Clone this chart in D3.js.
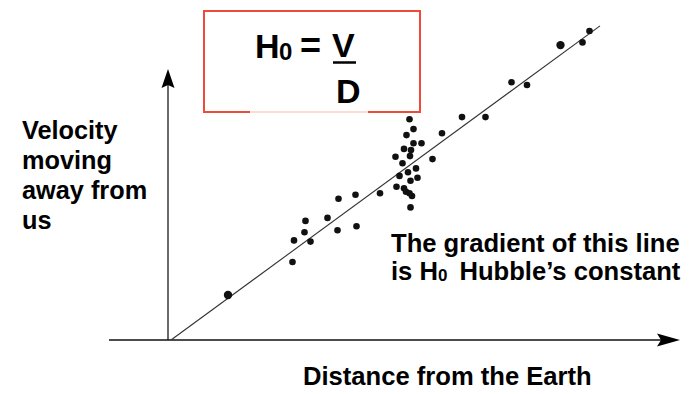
<!DOCTYPE html>
<html>
<head>
<meta charset="utf-8">
<script src="https://cdn.jsdelivr.net/npm/d3@7"></script>
<style>
  body { margin: 0; background: #fff; }
  text { font-family: "Liberation Sans", Arial, Helvetica, sans-serif; font-weight: bold; fill: #000; }
</style>
</head>
<body>
<svg width="698" height="394"></svg>
<script>
// distance (arbitrary units) and recession velocity (arbitrary units)
var distance = [11.4, 24.3, 24.6, 26.9, 26.7, 27.9, 31.3, 33.3, 33.5, 36.9, 37.1, 41.8, 45.1,
  47.7, 48.5, 47.1, 54.2, 48.5, 50.1, 46.6, 48.0, 47.8, 44.9, 52.3, 46.3, 49.0, 47.4, 45.7,
  49.3, 47.9, 46.6, 47.0, 47.7, 48.2, 47.9, 58.2, 62.9, 68.1, 71.2, 77.9, 82.3, 83.7];
var velocity = [15.0, 26.0, 33.2, 39.7, 35.9, 32.8, 40.7, 36.6, 47.1, 48.4, 37.9, 48.9, 51.1,
  73.6, 70.3, 68.3, 68.9, 65.6, 65.6, 63.7, 63.3, 61.3, 61.1, 60.3, 58.9, 57.2, 55.9, 54.7,
  54.1, 53.1, 50.6, 49.4, 48.9, 48.0, 44.2, 74.3, 74.3, 85.9, 85.0, 98.3, 99.2, 103.0];
var bigDots = [0, 39];

var fitX = [0, 85.8];
var fitY = [0, 104.7];

var yLabel = ["Velocity", "moving", "away from", "us"];
var xLabel = "Distance from the Earth";

var svg = d3.select("svg");

var x = d3.scaleLinear().domain([0, 100]).range([171, 671]);
var y = d3.scaleLinear().domain([0, 100]).range([340, 40]);

// axes with arrows
svg.append("line")
  .attr("x1", 168).attr("y1", 340).attr("x2", 168).attr("y2", 84)
  .attr("stroke", "#444").attr("stroke-width", 1.6);
svg.append("path")
  .attr("d", "M168,69 L174.5,88 L168,85 L161.5,88 Z")
  .attr("fill", "#000");

svg.append("line")
  .attr("x1", 109).attr("y1", 340).attr("x2", 664).attr("y2", 340)
  .attr("stroke", "#111").attr("stroke-width", 1.6);
svg.append("path")
  .attr("d", "M680,340 L657,333.5 L661,340 L657,346.5 Z")
  .attr("fill", "#000");

// fitted line
var line = d3.line()
  .x(function (d) { return x(d[0]); })
  .y(function (d) { return y(d[1]); });
svg.append("path")
  .datum(d3.zip(fitX, fitY))
  .attr("d", line)
  .attr("fill", "none")
  .attr("stroke", "#333")
  .attr("stroke-width", 1.1);

// points
svg.selectAll("circle")
  .data(d3.zip(distance, velocity))
  .enter()
  .append("circle")
  .attr("cx", function (d) { return x(d[0]); })
  .attr("cy", function (d) { return y(d[1]); })
  .attr("r", function (d, i) { return bigDots.indexOf(i) >= 0 ? 4.2 : 3.3; })
  .attr("fill", "#111");

// formula box
svg.append("rect")
  .attr("x", 204).attr("y", 11)
  .attr("width", 216).attr("height", 101)
  .attr("fill", "none")
  .attr("stroke", "#ee4a38")
  .attr("stroke-width", 2);
svg.append("line")
  .attr("x1", 250).attr("y1", 112).attr("x2", 368).attr("y2", 112)
  .attr("stroke", "#fbdcd6").attr("stroke-width", 2.2);

svg.append("text").attr("x", 255).attr("y", 58).style("font-size", "34px").text("H");
svg.append("text").attr("x", 279).attr("y", 60).style("font-size", "24px").text("0");
svg.append("text").attr("x", 300).attr("y", 58).style("font-size", "36px").text("=");
svg.append("text").attr("x", 332).attr("y", 57).style("font-size", "34px").text("V");
svg.append("line")
  .attr("x1", 333).attr("y1", 62.5).attr("x2", 356).attr("y2", 62.5)
  .attr("stroke", "#000").attr("stroke-width", 2.5);
svg.append("text").attr("x", 336).attr("y", 103).style("font-size", "34px").text("D");

// y label
svg.append("g").selectAll("text")
  .data(yLabel)
  .enter()
  .append("text")
  .attr("x", 22)
  .attr("y", function (d, i) { return 139 + i * 30; })
  .style("font-size", "25.3px")
  .text(function (d) { return d; });

// x label
svg.append("text")
  .attr("x", 303).attr("y", 385)
  .style("font-size", "25.6px")
  .text(xLabel);

// gradient note
svg.append("text")
  .attr("x", 391).attr("y", 252)
  .style("font-size", "25.6px")
  .text("The gradient of this line");
var note = svg.append("text")
  .attr("x", 391).attr("y", 280)
  .style("font-size", "25.6px");
note.append("tspan").text("is H");
note.append("tspan").attr("dy", 1).style("font-size", "17px").text("0");
note.append("tspan").attr("dy", -1).attr("dx", 12).text("Hubble\u2019s constant");
</script>
</body>
</html>
